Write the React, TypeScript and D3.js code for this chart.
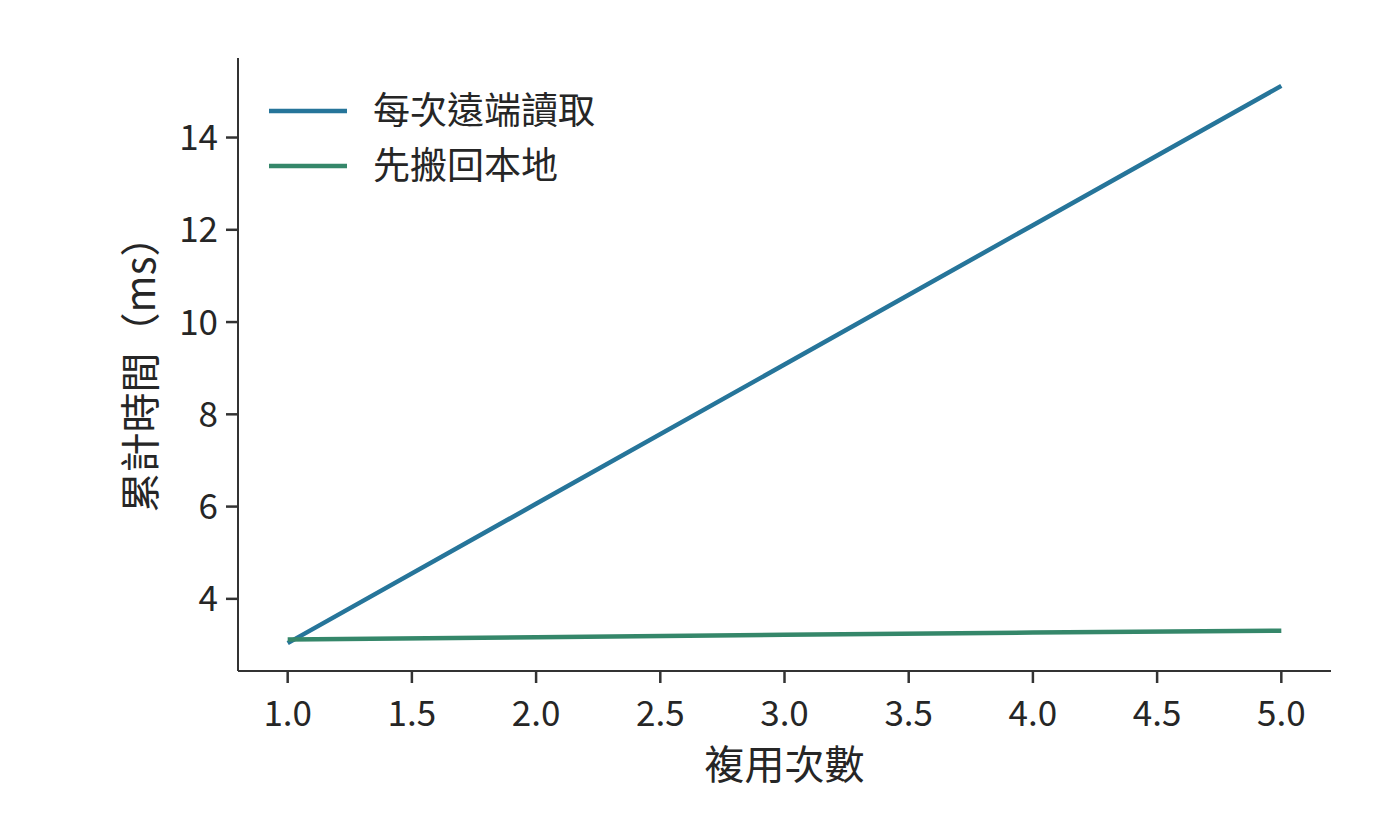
import React, { useEffect, useRef } from 'react';
import * as d3 from 'd3';

// reuse count (x) and cumulative time in ms for both strategies
const reuseCounts = [1, 2, 3, 4, 5];
const remoteReadMs = [3.04, 6.06, 9.08, 12.1, 15.12];
const copyLocalMs = [3.12, 3.17, 3.22, 3.27, 3.31];
const seriesNames = ['每次遠端讀取', '先搬回本地'];
const seriesColors = ['#26759a', '#35876a'];
const xTicks = [1, 1.5, 2, 2.5, 3, 3.5, 4, 4.5, 5];
const yTicks = [4, 6, 8, 10, 12, 14];

const W = 1400;
const H = 840;
const FONT = '"Noto Sans CJK TC", "Noto Sans", sans-serif';
const TEXT = '#262626';
const SPINE = '#333333';

const App: React.FC = () => {
  const ref = useRef<SVGSVGElement | null>(null);
  const margin = { top: 58, right: 69, bottom: 169, left: 238 };

  useEffect(() => {
    if (!ref.current) return;
    const svg = d3.select(ref.current);
    svg.selectAll('*').remove();

    const x0 = margin.left;
    const x1 = W - margin.right;
    const y0 = H - margin.bottom;
    const y1 = margin.top;

    // matplotlib-like 5% padding
    const xExt = d3.extent(reuseCounts) as [number, number];
    const xPad = (xExt[1] - xExt[0]) * 0.05;
    const allY = remoteReadMs.concat(copyLocalMs);
    const yExt = d3.extent(allY) as [number, number];
    const yPad = (yExt[1] - yExt[0]) * 0.05;

    const x = d3.scaleLinear().domain([xExt[0] - xPad, xExt[1] + xPad]).range([x0, x1]);
    const y = d3.scaleLinear().domain([yExt[0] - yPad, yExt[1] + yPad]).range([y0, y1]);

    const series = [remoteReadMs, copyLocalMs];
    const line = d3.line<number>()
      .x((_, i) => x(reuseCounts[i]))
      .y(d => y(d));

    // lines
    series.forEach((vals, i) => {
      svg.append('path')
        .datum(vals)
        .attr('fill', 'none')
        .attr('stroke', seriesColors[i])
        .attr('stroke-width', 4.5)
        .attr('d', line);
    });

    // spines
    svg.append('line')
      .attr('x1', x0).attr('x2', x0).attr('y1', y1).attr('y2', y0)
      .attr('stroke', SPINE).attr('stroke-width', 2);
    svg.append('line')
      .attr('x1', x0).attr('x2', x1).attr('y1', y0).attr('y2', y0)
      .attr('stroke', SPINE).attr('stroke-width', 2);

    // x ticks
    const xg = svg.append('g');
    xTicks.forEach(t => {
      xg.append('line')
        .attr('x1', x(t)).attr('x2', x(t)).attr('y1', y0).attr('y2', y0 + 12)
        .attr('stroke', SPINE).attr('stroke-width', 2.5);
      xg.append('text')
        .attr('x', x(t)).attr('y', y0 + 55)
        .attr('text-anchor', 'middle')
        .style('font-family', FONT).style('font-size', '35px').attr('fill', TEXT)
        .text(d3.format('.1f')(t));
    });

    // y ticks
    const yg = svg.append('g');
    yTicks.forEach(t => {
      yg.append('line')
        .attr('x1', x0 - 12).attr('x2', x0).attr('y1', y(t)).attr('y2', y(t))
        .attr('stroke', SPINE).attr('stroke-width', 2.5);
      yg.append('text')
        .attr('x', x0 - 20).attr('y', y(t))
        .attr('dy', '0.36em')
        .attr('text-anchor', 'end')
        .style('font-family', FONT).style('font-size', '35px').attr('fill', TEXT)
        .text(String(t));
    });

    // axis labels
    svg.append('text')
      .attr('x', (x0 + x1) / 2).attr('y', 779)
      .attr('text-anchor', 'middle')
      .style('font-family', FONT).style('font-size', '40px').attr('fill', TEXT)
      .text('複用次數');
    svg.append('text')
      .attr('transform', `translate(155, ${(y0 + y1) / 2}) rotate(-90)`)
      .attr('text-anchor', 'middle')
      .style('font-family', FONT).style('font-size', '40px').attr('fill', TEXT)
      .text('累計時間（ms）');

    // legend
    const lg = svg.append('g');
    seriesNames.forEach((name, i) => {
      const ly = 111 + i * 55;
      lg.append('line')
        .attr('x1', 269).attr('x2', 347).attr('y1', ly).attr('y2', ly)
        .attr('stroke', seriesColors[i]).attr('stroke-width', 4.5);
      lg.append('text')
        .attr('x', 373).attr('y', ly).attr('dy', '0.36em')
        .style('font-family', FONT).style('font-size', '37px').attr('fill', TEXT)
        .text(name);
    });
  }, []);

  return (
    <svg
      ref={ref}
      width={W}
      height={H}
      style={{ position: 'absolute', left: 0, top: 0, background: '#fff' }}
    />
  );
};

export default App;
